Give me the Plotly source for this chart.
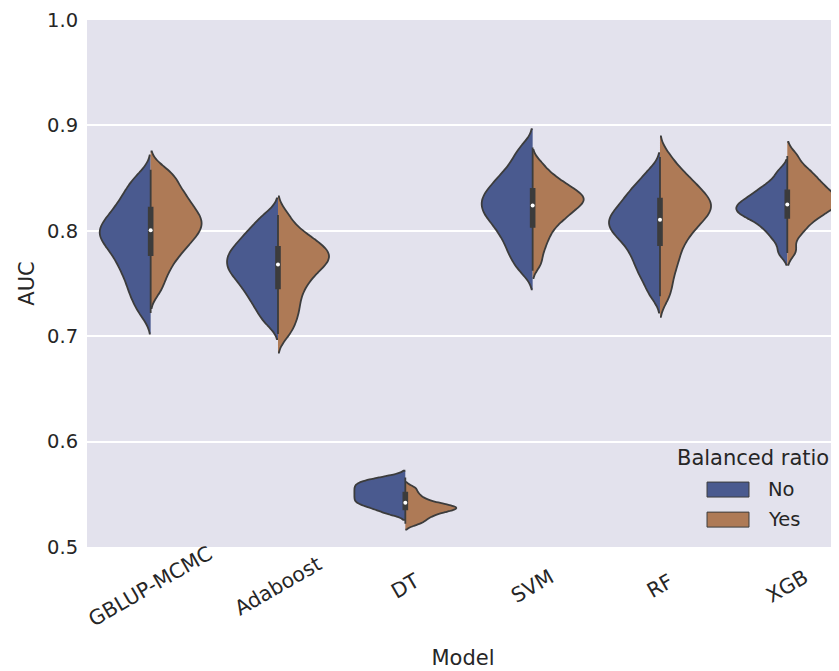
import numpy as np
import plotly.graph_objects as go

MODELS = ["GBLUP-MCMC", "Adaboost", "DT", "SVM", "RF", "XGB"]
GROUPS = ["No", "Yes"]
Y_TICKS = [0.5, 0.6, 0.7, 0.8, 0.9, 1.0]

# AUC samples, Balanced ratio = No
gblup_no = [0.722, 0.733, 0.741, 0.748, 0.755, 0.761, 0.766, 0.771, 0.776, 0.780, 0.784, 0.788, 0.791, 0.794,
            0.797, 0.800, 0.803, 0.806, 0.809, 0.813, 0.817, 0.821, 0.826, 0.831, 0.837, 0.844, 0.852]
ada_no = [0.713, 0.722, 0.729, 0.735, 0.740, 0.745, 0.749, 0.753, 0.757, 0.760, 0.763, 0.766, 0.769, 0.772,
          0.775, 0.778, 0.781, 0.784, 0.788, 0.792, 0.796, 0.801, 0.807, 0.815]
dt_no = [0.532, 0.536, 0.539, 0.541, 0.543, 0.545, 0.547, 0.549, 0.551, 0.553, 0.555, 0.557, 0.559, 0.561,
         0.563, 0.566]
svm_no = [0.762, 0.771, 0.778, 0.784, 0.790, 0.795, 0.800, 0.804, 0.808, 0.812, 0.815, 0.818, 0.821, 0.824,
          0.827, 0.830, 0.833, 0.836, 0.839, 0.843, 0.847, 0.851, 0.856, 0.862, 0.870, 0.879]
rf_no = [0.740, 0.752, 0.760, 0.767, 0.773, 0.779, 0.784, 0.789, 0.793, 0.797, 0.800, 0.803, 0.806, 0.809,
         0.812, 0.815, 0.818, 0.822, 0.826, 0.830, 0.835, 0.840, 0.846, 0.856]
xgb_no = [0.779, 0.790, 0.797, 0.802, 0.806, 0.810, 0.813, 0.815, 0.817, 0.819, 0.821, 0.823, 0.825, 0.827,
          0.829, 0.832, 0.835, 0.838, 0.842, 0.847, 0.856]

# AUC samples, Balanced ratio = Yes
gblup_yes = [0.744, 0.756, 0.765, 0.772, 0.778, 0.783, 0.787, 0.791, 0.795, 0.798, 0.801, 0.804, 0.807,
             0.810, 0.813, 0.816, 0.819, 0.823, 0.827, 0.831, 0.835, 0.840, 0.846, 0.852, 0.858]
ada_yes = [0.702, 0.712, 0.720, 0.727, 0.734, 0.741, 0.747, 0.752, 0.757, 0.761, 0.765, 0.768, 0.771, 0.774,
           0.776, 0.779, 0.782, 0.785, 0.788, 0.792, 0.797, 0.803, 0.815]
dt_yes = [0.522, 0.525, 0.528, 0.530, 0.532, 0.534, 0.535, 0.536, 0.537, 0.538, 0.539, 0.540, 0.542, 0.544,
          0.547, 0.551, 0.556]
svm_yes = [0.769, 0.781, 0.790, 0.797, 0.803, 0.808, 0.812, 0.815, 0.818, 0.821, 0.824, 0.826, 0.828, 0.830,
           0.832, 0.834, 0.836, 0.839, 0.842, 0.845, 0.849, 0.854, 0.863]
rf_yes = [0.738, 0.752, 0.764, 0.773, 0.781, 0.789, 0.795, 0.800, 0.805, 0.809, 0.813, 0.816, 0.819, 0.822,
          0.825, 0.828, 0.831, 0.834, 0.838, 0.842, 0.847, 0.852, 0.858, 0.870]
xgb_yes = [0.781, 0.796, 0.804, 0.810, 0.814, 0.818, 0.821, 0.824, 0.826, 0.828, 0.830, 0.833, 0.836, 0.839,
           0.842, 0.846, 0.850, 0.855, 0.860, 0.871]

NO_DATA = [gblup_no, ada_no, dt_no, svm_no, rf_no, xgb_no]
YES_DATA = [gblup_yes, ada_yes, dt_yes, svm_yes, rf_yes, xgb_yes]

BLUE = "#4A5A8F"
ORANGE = "#AE7A56"
EDGE = "#3C3C3C"
BG = "#E3E2ED"
TXT = "#262626"
FONT = "DejaVu Sans"

fig = go.Figure()


def kde_bw(v):
    v = np.asarray(v, dtype=float)
    return float(0.55 * np.std(v, ddof=1) * len(v) ** (-0.2))


for model, no_vals, yes_vals in zip(MODELS, NO_DATA, YES_DATA):
    for grp, vals, side, col in (("No", no_vals, "negative", BLUE), ("Yes", yes_vals, "positive", ORANGE)):
        fig.add_trace(go.Violin(
            x=[model] * len(vals), y=vals, name=grp, legendgroup=grp,
            side=side, scalegroup=model, scalemode="width", width=0.8,
            spanmode="soft", bandwidth=kde_bw(vals),
            fillcolor=col, line=dict(color=EDGE, width=1.8), opacity=1,
            points=False, box_visible=False, meanline_visible=False,
            showlegend=False, hoverinfo="skip",
        ))

# inner box for combined data of each model
box_x, box_y = [], []
for model, no_vals, yes_vals in zip(MODELS, NO_DATA, YES_DATA):
    comb = list(no_vals) + list(yes_vals)
    box_x += [model] * len(comb)
    box_y += comb
fig.add_trace(go.Box(
    x=box_x, y=box_y, width=0.03, whiskerwidth=0, boxpoints=False,
    fillcolor=EDGE, line=dict(color=EDGE, width=1.8), showlegend=False, hoverinfo="skip",
))
medians = [float(np.median(list(a) + list(b))) for a, b in zip(NO_DATA, YES_DATA)]
fig.add_trace(go.Scatter(
    x=MODELS, y=medians, mode="markers",
    marker=dict(color="white", size=4, line=dict(width=0)), showlegend=False, hoverinfo="skip",
))

annotations = []
for m in MODELS:
    annotations.append(dict(
        x=m, xref="x", y=-0.074, yref="paper", text=m, showarrow=False, textangle=-30,
        xanchor="center", yanchor="middle", font=dict(family=FONT, size=20.5, color=TXT),
    ))

# legend
annotations.append(dict(x=0.885, y=0.168, xref="paper", yref="paper", text="Balanced ratio", showarrow=False,
                        xanchor="center", yanchor="middle", font=dict(family=FONT, size=21, color=TXT)))
shapes = []
for i, (grp, col) in enumerate(zip(GROUPS, [BLUE, ORANGE])):
    yc = 0.109 - i * 0.057
    shapes.append(dict(type="rect", xref="paper", yref="paper", x0=0.8245, x1=0.8803,
                       y0=yc - 0.0142, y1=yc + 0.0142, fillcolor=col, line=dict(color=EDGE, width=1)))
    annotations.append(dict(x=0.903, y=yc, xref="paper", yref="paper", text=grp, showarrow=False,
                            xanchor="left", yanchor="middle", font=dict(family=FONT, size=19.5, color=TXT)))

# the page body adds an 8px offset: figure is sized so the plot area lands at 87..839 x 20..547
fig.update_layout(
    width=831, height=663,
    margin=dict(l=79, r=0, t=12, b=124),
    paper_bgcolor="white", plot_bgcolor=BG,
    violinmode="overlay", boxmode="overlay",
    font=dict(family=FONT, color=TXT),
    showlegend=False,
    annotations=annotations, shapes=shapes,
    xaxis=dict(
        type="category", categoryorder="array", categoryarray=MODELS,
        range=[-0.5, 5.406], showticklabels=False, showgrid=False, zeroline=False, showline=False,
        ticks="", automargin=False,
        title=dict(text="Model", font=dict(family=FONT, size=21, color=TXT), standoff=103),
    ),
    yaxis=dict(
        range=[0.5, 1.0], tickvals=Y_TICKS, tickformat=".1f",
        showgrid=True, gridcolor="white", gridwidth=1.5, zeroline=False, showline=False,
        ticks="outside", ticklen=4, tickcolor="rgba(0,0,0,0)",
        tickfont=dict(family=FONT, size=19.5, color=TXT), automargin=False,
        title=dict(text="AUC", font=dict(family=FONT, size=21, color=TXT), standoff=6),
    ),
)

fig.write_html("out.html")
